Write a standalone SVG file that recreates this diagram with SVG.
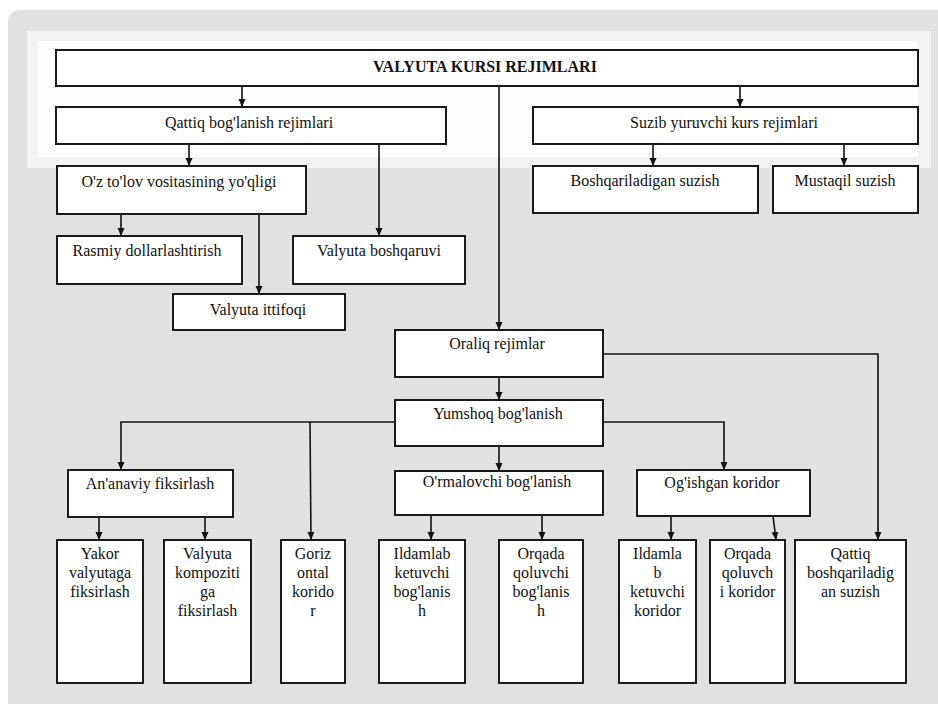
<svg xmlns="http://www.w3.org/2000/svg" width="938" height="704" viewBox="0 0 938 704">
<defs>
<marker id="ah" viewBox="0 0 8 8" refX="8" refY="4" markerWidth="8" markerHeight="8" markerUnits="userSpaceOnUse" orient="auto">
<path d="M0,0.5 L8,4 L0,7.5 z" fill="#111"/>
</marker>
</defs>
<style>
.box{fill:#fff;stroke:#1a1a1a;stroke-width:2}
.t{font-size:16px;fill:#111;text-anchor:middle}
.b{font-weight:bold}
.c{fill:none;stroke:#111;stroke-width:1.6}
.a{marker-end:url(#ah)}
</style>
<rect x="0" y="0" width="938" height="704" fill="#fff"/>
<rect x="8" y="10" width="950" height="720" rx="12" fill="#e1e1e1"/>
<rect x="27" y="31" width="904" height="137" fill="#f3f3f3"/>
<rect x="38" y="41" width="880" height="116" fill="#fdfdfd"/>

<g id="connectors">
<path class="c a" d="M242,86 V107"/>
<path class="c a" d="M740,86 V107"/>
<path class="c a" d="M499,86 V330"/>
<path class="c a" d="M189,144 V166"/>
<path class="c a" d="M379,144 V236"/>
<path class="c a" d="M653,144 V166"/>
<path class="c a" d="M844,144 V166"/>
<path class="c a" d="M121,214 V236"/>
<path class="c a" d="M259,214 V294"/>
<path class="c a" d="M499,377 V400"/>
<path class="c a" d="M603,354 H878 V540"/>
<path class="c a" d="M395,422 H121 V470"/>
<path class="c a" d="M310,422 L311,540"/>
<path class="c a" d="M499,446 V471"/>
<path class="c a" d="M603,422 H724 V470"/>
<path class="c a" d="M99,517 V540"/>
<path class="c a" d="M205,517 V540"/>
<path class="c a" d="M431,515 V540"/>
<path class="c a" d="M542,515 V540"/>
<path class="c a" d="M671,516 V540"/>
<path class="c a" d="M773,516 L776,540"/>
</g>

<g font-family="Liberation Serif, Tinos, Times New Roman, Noto Serif, DejaVu Serif, FreeSerif, serif">
<g id="n-title"><rect class="box" x="56" y="50" width="862" height="36"/><text class="t b" x="485" y="72">VALYUTA KURSI REJIMLARI</text></g>
<g id="n-qattiq"><rect class="box" x="56" y="107" width="390" height="37"/><text class="t" x="249" y="128">Qattiq bog'lanish rejimlari</text></g>
<g id="n-suzib"><rect class="box" x="533" y="107" width="385" height="37"/><text class="t" x="724" y="128">Suzib  yuruvchi kurs rejimlari</text></g>
<g id="n-boshq"><rect class="box" x="533" y="166" width="225" height="47"/><text class="t" x="645" y="186">Boshqariladigan suzish</text></g>
<g id="n-mustaqil"><rect class="box" x="773" y="166" width="145" height="47"/><text class="t" x="845" y="186">Mustaqil suzish</text></g>
<g id="n-oz"><rect class="box" x="57" y="166" width="249" height="48"/><text class="t" x="179" y="187">O'z to'lov vositasining  yo'qligi</text></g>
<g id="n-rasmiy"><rect class="box" x="57" y="236" width="185" height="48"/><text class="t" x="147" y="256">Rasmiy dollarlashtirish</text></g>
<g id="n-vboshq"><rect class="box" x="293" y="236" width="172" height="48"/><text class="t" x="379" y="256">Valyuta boshqaruvi</text></g>
<g id="n-ittifoq"><rect class="box" x="173" y="294" width="172" height="36"/><text class="t" x="258" y="315">Valyuta ittifoqi</text></g>
<g id="n-oraliq"><rect class="box" x="395" y="330" width="208" height="47"/><text class="t" x="497" y="349">Oraliq rejimlar</text></g>
<g id="n-yumshoq"><rect class="box" x="395" y="400" width="208" height="46"/><text class="t" x="498" y="419">Yumshoq bog'lanish</text></g>
<g id="n-ananaviy"><rect class="box" x="68" y="470" width="165" height="47"/><text class="t" x="150" y="489">An'anaviy fiksirlash</text></g>
<g id="n-ormalovchi"><rect class="box" x="395" y="471" width="208" height="44"/><text class="t" x="497" y="487">O'rmalovchi bog'lanish</text></g>
<g id="n-ogishgan"><rect class="box" x="637" y="470" width="173" height="46"/><text class="t" x="722" y="488">Og'ishgan koridor</text></g>

<g id="n-yakor"><rect class="box" x="57" y="540" width="86" height="143"/><text class="t" x="100" y="559">Yakor<tspan x="100" dy="19">valyutaga</tspan><tspan x="100" dy="19">fiksirlash</tspan></text></g>
<g id="n-kompozit"><rect class="box" x="164" y="540" width="87" height="143"/><text class="t" x="207.5" y="559">Valyuta<tspan x="207.5" dy="19">kompoziti</tspan><tspan x="207.5" dy="19">ga</tspan><tspan x="207.5" dy="19">fiksirlash</tspan></text></g>
<g id="n-goriz"><rect class="box" x="281" y="540" width="64" height="143"/><text class="t" x="313" y="559">Goriz<tspan x="313" dy="19">ontal</tspan><tspan x="313" dy="19">korido</tspan><tspan x="313" dy="19">r</tspan></text></g>
<g id="n-ildamlab"><rect class="box" x="379" y="540" width="86" height="143"/><text class="t" x="422" y="559">Ildamlab<tspan x="422" dy="19">ketuvchi</tspan><tspan x="422" dy="19">bog'lanis</tspan><tspan x="422" dy="19">h</tspan></text></g>
<g id="n-orqada1"><rect class="box" x="499" y="540" width="84" height="143"/><text class="t" x="541" y="559">Orqada<tspan x="541" dy="19">qoluvchi</tspan><tspan x="541" dy="19">bog'lanis</tspan><tspan x="541" dy="19">h</tspan></text></g>
<g id="n-ildamla"><rect class="box" x="619" y="540" width="77" height="143"/><text class="t" x="657.5" y="559">Ildamla<tspan x="657.5" dy="19">b</tspan><tspan x="657.5" dy="19">ketuvchi</tspan><tspan x="657.5" dy="19">koridor</tspan></text></g>
<g id="n-orqada2"><rect class="box" x="710" y="540" width="75" height="143"/><text class="t" x="747.5" y="559">Orqada<tspan x="747.5" dy="19">qoluvch</tspan><tspan x="747.5" dy="19">i koridor</tspan></text></g>
<g id="n-qbsuzish"><rect class="box" x="795" y="540" width="111" height="143"/><text class="t" x="850.5" y="559">Qattiq<tspan x="850.5" dy="19">boshqariladig</tspan><tspan x="850.5" dy="19">an suzish</tspan></text></g>
</g>
</svg>
